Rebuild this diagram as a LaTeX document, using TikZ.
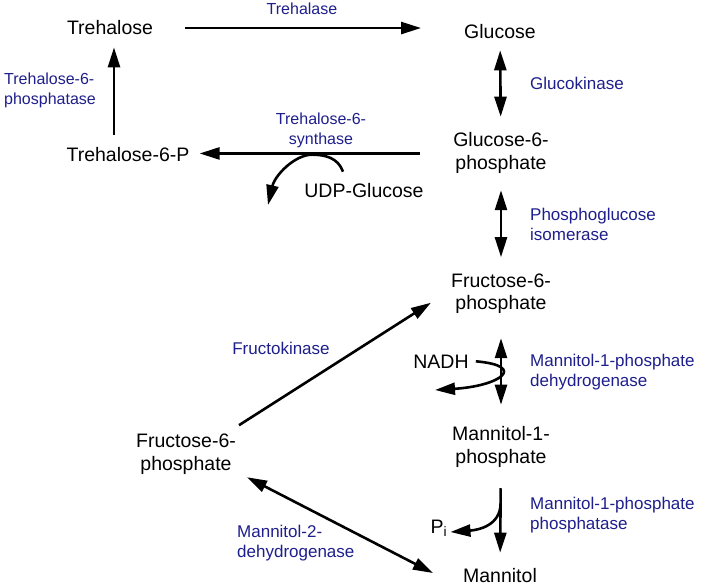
\documentclass[tikz,border=0pt]{standalone}
\usepackage{fontspec}
\setmainfont{Liberation Sans}
\usetikzlibrary{arrows.meta}
\definecolor{enzblue}{RGB}{30,30,140}
\tikzset{
  met/.style={inner sep=0pt, font=\fontsize{19.5}{23}\selectfont},
  enz/.style={inner sep=0pt, text=enzblue, font=\fontsize{17}{20.5}\selectfont},
  enzsmall/.style={enz, font=\fontsize{16}{20}\selectfont},
  arr/.style={line width=2.6pt, -{Triangle[length=20pt,width=12pt]}},
  dbl/.style={line width=2.6pt, {Triangle[length=20pt,width=12pt]}-{Triangle[length=20pt,width=12pt]}},
}
\begin{document}
\begin{tikzpicture}[x=1pt, y=-1pt]
	%%%%% START %%%%%
	\useasboundingbox (0,0) rectangle (702,588);

	% metabolites (two-line nodes sit on their last line)
	\node[met, anchor=base] (treh) at (110,35) {Trehalose};
	\node[met, anchor=base] (glc) at (500,39) {Glucose};
	\node[met, anchor=base, align=center] (g6p) at (501,170) {Glucose-6-\\phosphate};
	\node[met, anchor=base] (t6p) at (128,162) {Trehalose-6-P};
	\node[met, anchor=base] (udp) at (364,198) {UDP-Glucose};
	\node[met, anchor=base, align=center] (f6p) at (501,310) {Fructose-6-\\phosphate};
	\node[met, anchor=base] (nadh) at (441,368) {NADH};
	\node[met, anchor=base, align=center] (m1p) at (501,463) {Mannitol-1-\\phosphate};
	\node[met, anchor=base, align=center] (lf6p) at (186,470) {Fructose-6-\\phosphate};
	\node[met, anchor=base] (pi) at (439,533) {P\textsubscript{i}};
	\node[met, anchor=base] (mtl) at (500,582) {Mannitol};

	% enzymes
	\node[enzsmall, anchor=base] (tre) at (302,15) {Trehalase};
	\node[enz, anchor=base west] (gk) at (530,90) {Glucokinase};
	\node[enzsmall, anchor=base west, align=left] (tpp) at (4,105) {Trehalose-6-\\phosphatase};
	\node[enzsmall, anchor=base, align=center] (tps) at (321,145) {Trehalose-6-\\synthase};
	\node[enz, anchor=base west, align=left] (pgi) at (530,240.5) {Phosphoglucose\\isomerase};
	\node[enz, anchor=base] (fk) at (281,355) {Fructokinase};
	\node[enz, anchor=base west, align=left] (mpd) at (530,386.5) {Mannitol-1-phosphate\\dehydrogenase};
	\node[enz, anchor=base west, align=left] (mpp) at (530,529.5) {Mannitol-1-phosphate\\phosphatase};
	\node[enz, anchor=base west, align=left] (m2d) at (237,557.5) {Mannitol-2-\\dehydrogenase};

	\coordinate (udpout) at (268,205);
	\coordinate (nadhout) at (435,390);

	% reactions
	\draw[arr] ([xshift=32pt]treh.east) -- ([xshift=-43pt]treh.east -| glc.west);
	\draw[dbl, shorten <=11pt, shorten >=16pt] (glc) -- (g6p);
	\draw[arr, shorten >=10pt] ([xshift=-33pt]g6p.west) -- (g6p.west -| t6p.east);
	\draw[arr, shorten <=13pt, shorten >=12pt] ([xshift=-14pt]t6p.north) -- ([xshift=4pt]treh.south);
	\draw[arr] ([xshift=-21pt,yshift=12pt]udp.north) .. controls +(-5,-14) and +(13,0) .. ++(-31,-17)
		.. controls +(-17,0) and +(7,-30) .. (udpout);
	\draw[dbl, shorten <=16pt, shorten >=16pt] (g6p) -- (f6p);
	\draw[dbl, shorten <=24pt, shorten >=21pt] (f6p) -- (m1p);
	\draw[arr] ([xshift=7pt]nadh.east) .. controls (528,366) and (500,386) .. (nadhout);
	\draw[arr, shorten <=21pt, shorten >=15pt] (m1p) -- (mtl) coordinate[pos=0.36] (pistart);
	\draw[arr] (pistart) .. controls +(0,22) and +(28,-2) .. ([xshift=3pt,yshift=1pt]pi.base east);
	\draw[arr] ([shift={(3pt,8pt)}]lf6p.north east) -- ([shift={(-20pt,-9pt)}]f6p.west);
	\draw[dbl] ([shift={(11pt,-3pt)}]lf6p.south east) -- ([shift={(-30pt,2pt)}]mtl.west);
	%%%%% END %%%%%
\end{tikzpicture}
\end{document}
